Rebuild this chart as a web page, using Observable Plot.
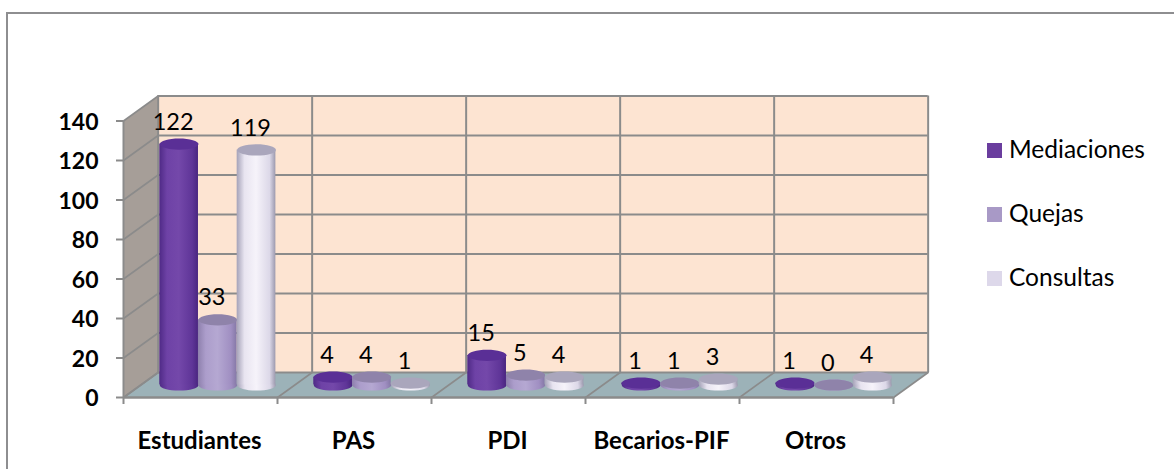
<!DOCTYPE html>
<html lang="es">
<head>
<meta charset="utf-8">
<script src="https://cdn.jsdelivr.net/npm/d3@7"></script>
<script src="https://cdn.jsdelivr.net/npm/@observablehq/plot@0.6"></script>
<style>
  html, body { margin: 0; padding: 0; background: #fff; width: 1174px; height: 469px; overflow: hidden; }
  #frame { position: absolute; left: 6px; top: 12px; width: 1168px; height: 457px; box-sizing: border-box;
           border-top: 2px solid #8e8e90; border-left: 2px solid #8e8e90; }
  #chart { position: absolute; left: 0; top: 0; }
  #chart svg { display: block; background: transparent; }
  #legend { position: absolute; left: 987px; top: 136px; font: 24.5px Lato, sans-serif; color: #000; }
  #legend .item { position: absolute; left: 0; white-space: nowrap; line-height: 30px; height: 30px; }
  #legend .swatch { position: absolute; left: 0; top: 7px; width: 15px; height: 15px; }
  #legend .name { position: absolute; left: 22px; top: -2px; }
</style>
</head>
<body>
<div id="frame"></div>
<div id="chart"></div>
<div id="legend"></div>
<script>
const categories = ["Estudiantes", "PAS", "PDI", "Becarios-PIF", "Otros"];
const seriesNames = ["Mediaciones", "Quejas", "Consultas"];
const mediaciones = [122, 4, 15, 1, 1];
const quejas = [33, 4, 5, 1, 0];
const consultas = [119, 1, 4, 3, 4];
const seriesValues = [mediaciones, quejas, consultas];
const yTicks = [0, 20, 40, 60, 80, 100, 120, 140];
const swatchColors = ["#6a3d9e", "#a899c6", "#ddd8ea"];
const topColors = ["#5a2f96", "#8f83aa", "#aaa6bc"];

// Depth of the 3D box, in the scale's own units (categories and values)
const depthX = 0.225;
const depthY = 12.66;
const barWidth = 0.2513;
const xMax = categories.length;
const yMax = 140;

const rows = seriesNames.flatMap((name, s) => categories.map((c, i) => ({
  category: c, series: name, s, value: seriesValues[s][i],
  center: i + 0.5 + depthX / 2 + (s - 1) * barWidth,
  base: depthY / 2
})));

const ellipse = {
  draw(ctx, size) {
    const rx = Math.sqrt(size / Math.PI), ry = rx * 0.29, k = 0.5523;
    ctx.moveTo(-rx, 0);
    ctx.bezierCurveTo(-rx, -k * ry, -k * rx, -ry, 0, -ry);
    ctx.bezierCurveTo(k * rx, -ry, rx, -k * ry, rx, 0);
    ctx.bezierCurveTo(rx, k * ry, k * rx, ry, 0, ry);
    ctx.bezierCurveTo(-k * rx, ry, -rx, k * ry, -rx, 0);
    ctx.closePath();
  }
};

const gridColor = "#8b8b8b";
const xEdges = d3.range(xMax + 1);

const diagonalRows = [
  ...yTicks.flatMap(v => [{ id: "y" + v, x: 0, y: v }, { id: "y" + v, x: depthX, y: v + depthY }]),
  ...xEdges.flatMap(e => [{ id: "x" + e, x: e, y: 0 }, { id: "x" + e, x: e + depthX, y: depthY }])
];

const floor = [
  { x: 0, y: 0 }, { x: xMax, y: 0 }, { x: xMax + depthX, y: depthY }, { x: depthX, y: depthY }
];
const side = [
  { x: 0, y: 0 }, { x: depthX, y: depthY }, { x: depthX, y: yMax + depthY }, { x: 0, y: yMax }
];

const cylinderMarks = seriesNames.flatMap((name, s) => {
  const d = rows.filter(r => r.s === s);
  const bodyFill = `url(#cyl${s})`;
  return [
    Plot.dot(d, { x: "center", y: "base", r: barWidth * 77, symbol: ellipse, fill: bodyFill }),
    Plot.rect(d, {
      x1: r => r.center - barWidth / 2, x2: r => r.center + barWidth / 2,
      y1: "base", y2: r => r.base + r.value, fill: bodyFill
    }),
    Plot.dot(d, { x: "center", y: r => r.base + r.value, r: barWidth * 77, symbol: ellipse, fill: topColors[s] })
  ];
});

const chart = Plot.plot({
  width: 1174,
  height: 469,
  marginLeft: 123,
  marginRight: 281,
  marginTop: 120,
  marginBottom: 72,
  style: { background: "transparent", overflow: "visible" },
  x: { domain: [0, xMax], range: [123, 893], axis: null },
  y: { domain: [0, yMax], range: [397, 120.5], axis: null },
  marks: [
    () => {
      const ns = "http://www.w3.org/2000/svg";
      const defs = document.createElementNS(ns, "defs");
      const stops = [
        ["#4f2a86", "#6e42a6", "#7448aa", "#5f3598", "#4a2680"],
        ["#8e80ad", "#ac9dcb", "#b5a8d2", "#a08fc2", "#8578a6"],
        ["#a5a2b8", "#e8e4f0", "#f6f3fa", "#dcd8e8", "#9c99ae"]
      ];
      stops.forEach((cols, i) => {
        const g = document.createElementNS(ns, "linearGradient");
        g.setAttribute("id", "cyl" + i);
        g.setAttribute("x1", "0"); g.setAttribute("x2", "1");
        g.setAttribute("y1", "0"); g.setAttribute("y2", "0");
        cols.forEach((c, j) => {
          const st = document.createElementNS(ns, "stop");
          st.setAttribute("offset", [0, 0.2, 0.5, 0.85, 1][j]);
          st.setAttribute("stop-color", c);
          g.appendChild(st);
        });
        defs.appendChild(g);
      });
      return defs;
    },
    // back wall
    Plot.rect([0], { x1: () => depthX, x2: () => xMax + depthX, y1: () => depthY, y2: () => yMax + depthY, fill: "#fde4d2" }),
    // side wall and floor
    Plot.line(side, { x: "x", y: "y", curve: "linear-closed", fill: "#a69e98", stroke: "none" }),
    Plot.line(floor, { x: "x", y: "y", curve: "linear-closed", fill: "#9cb2b8", stroke: "none" }),
    // gridlines on the back wall
    Plot.ruleY(yTicks, { y: v => v + depthY, x1: () => depthX, x2: () => xMax + depthX, stroke: gridColor, strokeWidth: 2 }),
    Plot.ruleX(xEdges, { x: e => e + depthX, y1: () => depthY, y2: () => yMax + depthY, stroke: gridColor, strokeWidth: 2 }),
    // gridlines going through the depth
    Plot.line(diagonalRows, { x: "x", y: "y", z: "id", stroke: gridColor, strokeWidth: 1.6 }),
    // the front edges
    Plot.ruleY([0], { x1: () => 0, x2: () => xMax, stroke: gridColor, strokeWidth: 2.5 }),
    Plot.ruleX([0], { y1: () => 0, y2: () => yMax, stroke: gridColor, strokeWidth: 2 }),
    // axes
    Plot.axisY({ ticks: yTicks, tickSize: 7, stroke: gridColor, strokeWidth: 2, tickFormat: () => "", label: null }),
    Plot.axisY({
      ticks: yTicks, tickSize: 0, tickPadding: 25, dy: 1.5,
      label: null, fontFamily: "Lato, sans-serif", fontSize: 23, fontWeight: 700, fill: "#000"
    }),
    Plot.axisX({ ticks: xEdges, tickSize: 7, stroke: gridColor, strokeWidth: 2, tickFormat: () => "", label: null }),
    Plot.text(categories, {
      x: (c, i) => i + 0.5, y: () => 0, text: d => d, dy: 44, dx: -1,
      fontFamily: "Lato, sans-serif", fontSize: 24, fontWeight: 700, fill: "#000"
    }),
    // cylinders
    ...cylinderMarks,
    // value labels
    Plot.text(rows, {
      x: "center", y: r => r.base + r.value, text: r => String(r.value), dx: -6, dy: -22,
      fontFamily: "Lato, sans-serif", fontSize: 23.5, fill: "#000"
    })
  ]
});
document.getElementById("chart").append(chart);

const legend = d3.select("#legend");
seriesNames.forEach((name, i) => {
  const item = legend.append("div").attr("class", "item").style("top", (i * 64) + "px");
  item.append("span").attr("class", "swatch").style("background", swatchColors[i]);
  item.append("span").attr("class", "name").text(name);
});
</script>
</body>
</html>
